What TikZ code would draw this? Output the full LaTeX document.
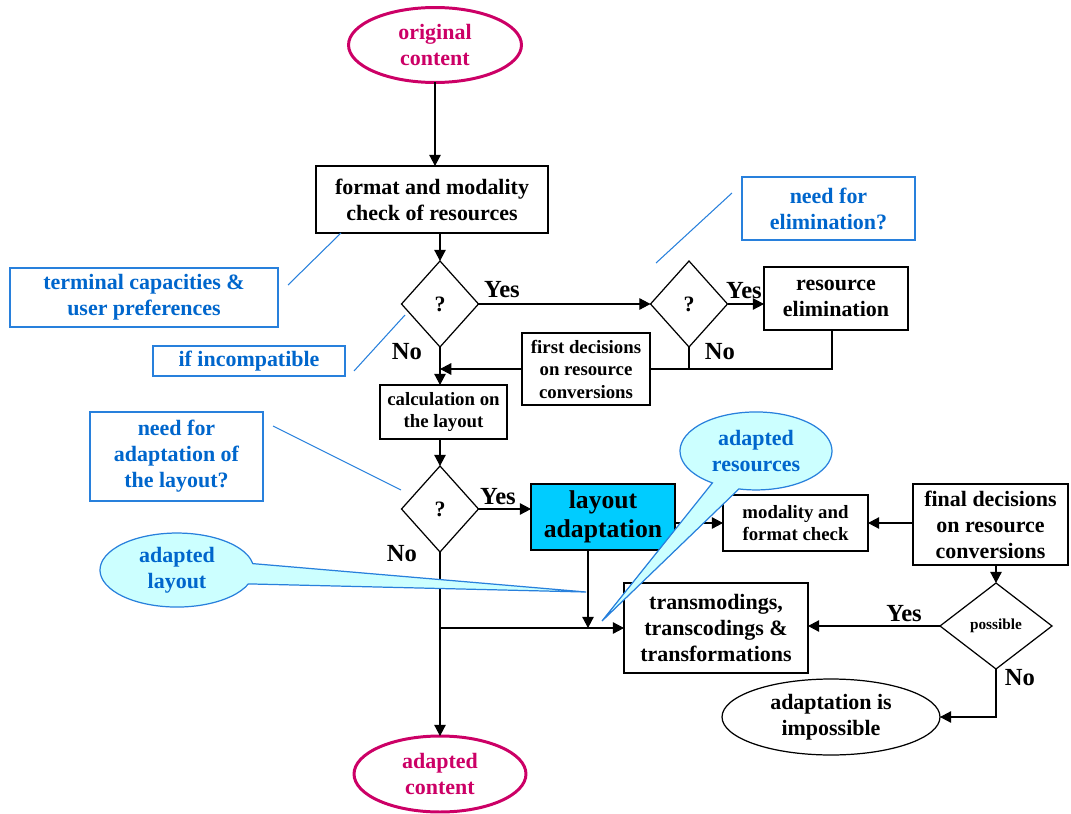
\documentclass[tikz,border=0pt]{standalone}
\usepackage{fontspec}
\setmainfont{Liberation Serif}
\usetikzlibrary{shapes.geometric,arrows.meta}
\definecolor{crimson}{RGB}{204,0,102}
\definecolor{textblue}{RGB}{0,102,204}
\definecolor{lineblue}{RGB}{40,128,220}
\definecolor{boxcyan}{RGB}{0,204,255}
\definecolor{bubble}{RGB}{204,255,255}
\begin{document}
\begin{tikzpicture}[x=0.02cm,y=-0.02cm,
  every node/.style={inner sep=0pt,outer sep=0pt,align=center},
  stdtext/.style={font=\fontsize{12.5}{14.8}\selectfont\bfseries},
  smalltext/.style={font=\fontsize{10.7}{12.8}\selectfont\bfseries},
  bigtext/.style={font=\fontsize{14.6}{16.6}\selectfont\bfseries},
  lbl/.style={font=\fontsize{14}{16}\selectfont\bfseries},
  box/.style={draw,line width=0.7pt,stdtext},
  dec/.style={draw,diamond,line width=0.7pt,stdtext,minimum width=1.54cm,minimum height=1.72cm},
  endpoint/.style={draw=crimson,ellipse,line width=1.7pt,text=crimson,stdtext,minimum width=3.46cm,minimum height=1.5cm},
  note/.style={draw=lineblue,line width=0.7pt,text=textblue,stdtext},
  noteline/.style={draw=lineblue,line width=0.6pt},
  bubbleshape/.style={draw=lineblue,fill=bubble,line width=0.7pt},
  bubbletext/.style={text=textblue,stdtext},
  arr/.style={-{Triangle[length=6.4pt,width=6.6pt]},line width=0.6pt},
  link/.style={line width=0.6pt}
]
\useasboundingbox (0,0) rectangle (1071,814);

% main column
\node[endpoint] (orig) at (435,45) {original\\content};
\node[box,minimum width=4.64cm,minimum height=1.34cm] (fmt) at (432,199.5) {format and modality\\check of resources};
\node[dec] (d1) at (440,304) {?};
\node[dec] (d2) at (689,304) {?};
\node[box,minimum width=2.88cm,minimum height=1.26cm] (elim) at (836,298.5) {resource\\elimination};
\node[box,smalltext,minimum width=2.56cm,minimum height=1.44cm] (first) at (586,369) {first decisions\\on resource\\conversions};
\node[box,smalltext,minimum width=2.54cm,minimum height=1.08cm] (calc) at (443.5,412) {calculation on\\the layout};
\node[dec] (d3) at (440,509) {?};
\node[box,bigtext,fill=boxcyan,minimum width=2.88cm,minimum height=1.32cm] (lay) at (603,517) {layout\\adaptation};
\node[box,smalltext,minimum width=2.9cm,minimum height=1.12cm] (mod) at (795.5,523) {modality and\\format check};
\node[box,minimum width=3.1cm,minimum height=1.62cm] (fin) at (990.5,524.5) {final decisions\\on resource\\conversions};
\node[dec,font=\fontsize{8.7}{10}\selectfont\bfseries,minimum width=2.24cm,minimum height=1.72cm] (poss) at (996,626) {possible};
\node[box,minimum width=3.68cm,minimum height=1.8cm] (trans) at (716,628) {transmodings,\\transcodings \&\\transformations};
\node[draw,ellipse,line width=0.7pt,stdtext,minimum width=4.36cm,minimum height=1.52cm] (imp) at (831,717) {adaptation is\\impossible};
\node[endpoint,minimum width=3.44cm,minimum height=1.52cm] (adc) at (440,774) {adapted\\content};

% branch labels
\node[lbl] (y1) at (502,290) {Yes};
\node[lbl] (n1) at (407,352) {No};
\node[lbl] (y2) at (744,291) {Yes};
\node[lbl] (n2) at (720,352) {No};
\node[lbl] (y3) at (498,497) {Yes};
\node[lbl] (n3) at (402,554) {No};
\node[lbl] (y4) at (904,614) {Yes};
\node[lbl] (n4) at (1020,678) {No};

% connectors
\draw[arr] (orig.south) -- (orig.south |- fmt.north);
\draw[arr] (d1.north |- fmt.south) -- (d1.north);
\draw[arr] (d1.east) -- (d2.west);
\draw[arr] (d2.east) -- (d2.east -| elim.west);
\draw[link] ([xshift=-0.08cm]elim.south) |- (first.east);
\draw[link] (d2.south) -- (d2.south |- first.east);
\draw[arr] (first.west) -- (first.west -| d1.south);
\draw[arr] (d1.south) -- (d1.south |- calc.north);
\draw[arr] (d1.south |- calc.south) -- (d3.north);
\draw[arr] (d3.east) -- (d3.east -| lay.west);
\draw[arr] (lay.east |- mod.west) -- (mod.west);
\draw[arr] (fin.west |- mod.east) -- (mod.east);
\draw[arr] (fin.south -| poss.north) -- (poss.north);
\draw[arr] (poss.west) -- (poss.west -| trans.east);
\draw[arr] (poss.south) |- (imp.east);
\draw[arr] (d3.south) -- (d3.south |- adc.north);
\coordinate (branch) at (d3.south |- trans.west);
\draw[arr] (branch) -- (trans.west);
\coordinate (laydrop) at ([xshift=-0.3cm]lay.south);
\draw[arr] (laydrop) -- (laydrop |- trans.west);

% annotation boxes and their pointers
\node[note,minimum width=5.36cm,minimum height=1.18cm] (term) at (144,297.5) {terminal capacities \&\\user preferences};
\node[note,minimum width=3.84cm,minimum height=0.6cm] (incomp) at (249,361) {if incompatible};
\node[note,minimum width=3.46cm,minimum height=1.78cm] (needad) at (176.5,456.5) {need for\\adaptation of\\the layout?};
\node[note,minimum width=3.46cm,minimum height=1.26cm] (needel) at (828.5,208.5) {need for\\elimination?};
\coordinate (t1) at (288,285); \coordinate (t2) at (341,233);
\coordinate (i1) at (354,371); \coordinate (i2) at (405,315);
\coordinate (a1) at (273,426); \coordinate (a2) at (401,490);
\coordinate (e1) at (656,263); \coordinate (e2) at (732,193);
\draw[noteline] (t1) -- (t2);
\draw[noteline] (i1) -- (i2);
\draw[noteline] (a1) -- (a2);
\draw[noteline] (e1) -- (e2);

% speech bubbles
\coordinate (tipL) at (586,592);
\coordinate (tipR) at (602,621);
\draw[bubbleshape] (248.4,583.9) arc[start angle=22,end angle=350,x radius=77,y radius=37] -- (tipL) -- cycle;
\node[bubbletext] (bl) at (177,570) {adapted\\layout};
\draw[bubbleshape] (712.4,482.9) arc[start angle=125,end angle=463,x radius=76,y radius=39] -- (tipR) -- cycle;
\node[bubbletext] (br) at (756,451) {adapted\\resources};
\end{tikzpicture}
\end{document}
